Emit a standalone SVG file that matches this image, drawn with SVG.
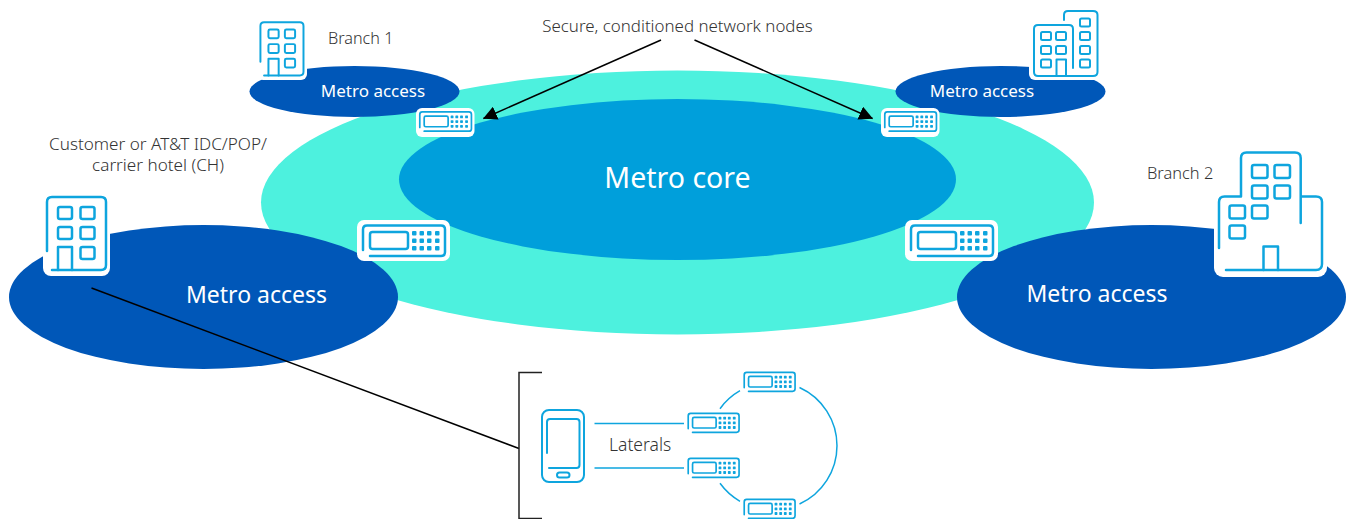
<svg xmlns="http://www.w3.org/2000/svg" xmlns:xlink="http://www.w3.org/1999/xlink" width="1348" height="519" viewBox="0 0 1348 519">
<style>
text{font-family:"Noto Sans","Open Sans","Liberation Sans",sans-serif}
.lbl{fill:#333;font-size:16.900px;font-weight:300}
.w{fill:#fff}
.ic{fill:none;stroke:#0ea5de;stroke-width:2.500;stroke-linecap:round;stroke-linejoin:round}
.sm{stroke-width:2.700}
.ln{stroke:#000;stroke-width:1.500;fill:none}
.mask{fill:#fff}
</style>
<defs>
<marker id="ah" viewBox="0 0 12 12" refX="11.500" refY="6" markerWidth="14" markerHeight="14" markerUnits="userSpaceOnUse" orient="auto"><path d="M0 0L12 6L0 12Z" fill="#000"/></marker>
<g id="dev">
<path d="M6 30V9.500Q6 5.500 10 5.500H84Q88 5.500 88 9.500V32Q88 36 84 36H13"/>
<rect x="13" y="12" width="38" height="17" rx="2.500"/>
<g fill="#0ea5de" stroke="none">
<rect x="55" y="11" width="4.500" height="4.500" rx="1"/><rect x="62.500" y="11" width="4.500" height="4.500" rx="1"/><rect x="70" y="11" width="4.500" height="4.500" rx="1"/><rect x="78" y="11" width="4.500" height="4.500" rx="1"/>
<rect x="55" y="18.500" width="4.500" height="4.500" rx="1"/><rect x="62.500" y="18.500" width="4.500" height="4.500" rx="1"/><rect x="70" y="18.500" width="4.500" height="4.500" rx="1"/><rect x="78" y="18.500" width="4.500" height="4.500" rx="1"/>
<rect x="55" y="26" width="4.500" height="4.500" rx="1"/><rect x="62.500" y="26" width="4.500" height="4.500" rx="1"/><rect x="70" y="26" width="4.500" height="4.500" rx="1"/><rect x="78" y="26" width="4.500" height="4.500" rx="1"/>
</g>
</g>
<g id="bld">
<path d="M4 55V6Q4 1 9 1H58Q63 1 63 6V69Q63 74 58 74H9"/>
<path d="M15 74V51H29V74"/>
<rect x="15" y="11" width="14" height="12" rx="2"/><rect x="37.500" y="11" width="14" height="12" rx="2"/>
<rect x="15" y="31" width="14" height="12" rx="2"/><rect x="37.500" y="31" width="14" height="12" rx="2"/>
<rect x="37.500" y="51" width="14" height="12" rx="2"/>
</g>
</defs>

<ellipse id="metro-ring" cx="677.500" cy="202.500" rx="416.500" ry="132" fill="#4df1de"/>
<g id="metro-core"><ellipse cx="677.500" cy="179.500" rx="278.500" ry="80.500" fill="#009fdb"/>
<text x="677.500" y="188" text-anchor="middle" class="w" font-size="28.500">Metro core</text></g>

<g id="access-tl"><ellipse cx="354.500" cy="91.500" rx="105" ry="25.500" fill="#0057b8"/>
<text x="373" y="97" text-anchor="middle" class="w" font-size="17">Metro access</text></g>
<g id="access-tr"><ellipse cx="1000.500" cy="91.500" rx="105" ry="25.500" fill="#0057b8"/>
<text x="982" y="97" text-anchor="middle" class="w" font-size="17">Metro access</text></g>
<g id="access-l"><ellipse cx="203.500" cy="297" rx="194.500" ry="72" fill="#0057b8"/>
<text x="256.500" y="303" text-anchor="middle" class="w" font-size="23">Metro access</text></g>
<g id="access-r"><ellipse cx="1151.500" cy="297" rx="194.500" ry="72" fill="#0057b8"/>
<text x="1097" y="302" text-anchor="middle" class="w" font-size="23">Metro access</text></g>

<g id="node-dev-tl"><rect class="mask" x="416" y="108" width="58.500" height="29" rx="6"/><use xlink:href="#dev" href="#dev" class="ic sm" transform="translate(416 108.500) scale(.63)"/></g>
<g id="node-dev-tr"><rect class="mask" x="881" y="108" width="58.500" height="29" rx="6"/><use xlink:href="#dev" href="#dev" class="ic sm" transform="translate(881 108.500) scale(.63)"/></g>
<g id="node-dev-l"><rect class="mask" x="357" y="220" width="93" height="41" rx="7"/><use xlink:href="#dev" href="#dev" class="ic" transform="translate(357 220)"/></g>
<g id="node-dev-r"><rect class="mask" x="905" y="220" width="93" height="41" rx="7"/><use xlink:href="#dev" href="#dev" class="ic" transform="translate(905 220)"/></g>

<g id="building-ch"><rect class="mask" x="43" y="190" width="67" height="86" rx="8"/><use xlink:href="#bld" href="#bld" class="ic" transform="translate(43 196)"/></g>
<g id="building-branch1"><rect class="mask" x="257" y="18" width="50" height="62" rx="6"/><use xlink:href="#bld" href="#bld" class="ic sm" transform="translate(257.500 21.500) scale(.73)"/></g>

<g id="building-top-right"><rect class="mask" x="1029" y="5" width="73" height="75" rx="6"/>
<g class="ic" style="stroke-width:2">
<path d="M1073 68V29Q1073 25 1069 25H1038Q1034 25 1034 29V72Q1034 76 1038 76H1093Q1097.500 76 1097.500 72V15Q1097.500 11 1093 11H1068Q1064 11 1064 15V20"/>
<path d="M1056.500 76V59.500H1066V76"/>
<rect x="1041" y="32" width="10" height="8" rx="1.500"/><rect x="1056" y="32" width="10" height="8" rx="1.500"/>
<rect x="1041" y="46" width="10" height="8" rx="1.500"/><rect x="1056" y="46" width="10" height="8" rx="1.500"/>
<rect x="1041" y="59.500" width="10" height="8" rx="1.500"/>
<rect x="1080" y="18.500" width="10" height="8" rx="1.500"/><rect x="1080" y="32" width="10" height="8" rx="1.500"/><rect x="1080" y="46" width="10" height="8" rx="1.500"/><rect x="1080" y="59.500" width="10" height="8" rx="1.500"/>
</g></g>

<g id="building-branch2"><rect class="mask" x="1214" y="190" width="113" height="87" rx="9"/>
<g class="ic">
<path d="M1219 248V202Q1219 196.500 1224.500 196.500H1241V158Q1241 152.500 1246.500 152.500H1295Q1300.700 152.500 1300.700 158V223M1300.700 196.500H1316Q1322 196.500 1322 202V264Q1322 270 1316 270H1226"/>
<path d="M1263.500 270V246.500H1278V270"/>
<rect x="1252" y="165" width="15.500" height="13" rx="2"/><rect x="1274.500" y="165" width="15.500" height="13" rx="2"/>
<rect x="1252" y="185.500" width="15.500" height="13" rx="2"/><rect x="1274.500" y="185.500" width="15.500" height="13" rx="2"/>
<rect x="1229.500" y="205.500" width="15.500" height="13" rx="2"/><rect x="1252" y="205.500" width="15.500" height="13" rx="2"/>
<rect x="1229.500" y="225.500" width="15.500" height="13" rx="2"/>
</g></g>

<g id="laterals-phone" class="ic" style="stroke-width:2">
<rect x="542" y="410" width="42" height="72" rx="7"/>
<path d="M547 453V422Q547 419 550 419H576.500Q579.500 419 579.500 422V465Q579.500 468 576.500 468H549"/>
<rect x="557" y="472.500" width="12.500" height="5" rx="2.500"/>
</g>
<g id="lat-dev-1"><use xlink:href="#dev" href="#dev" class="ic sm" transform="translate(740.500 369) scale(.62)"/></g>
<g id="lat-dev-2"><use xlink:href="#dev" href="#dev" class="ic sm" transform="translate(684.500 410) scale(.62)"/></g>
<g id="lat-dev-3"><use xlink:href="#dev" href="#dev" class="ic sm" transform="translate(684.500 455) scale(.62)"/></g>
<g id="lat-dev-4"><use xlink:href="#dev" href="#dev" class="ic sm" transform="translate(740.500 496) scale(.62)"/></g>

<g id="connectors">
<g fill="none" stroke="#0ea5de" stroke-width="1.500">
<path d="M594.500 423.500H684M594.500 468H684"/>
<path d="M799.500 387.500A64 64 0 0 1 799.500 504"/>
<path d="M740 390.700A64 64 0 0 0 720 408.700"/>
<path d="M720 483.300A64 64 0 0 0 740 501.300"/>
</g>
<path class="ln" d="M91.500 288L519 448.500"/>
<path d="M542 372.500H519V518.500H542" fill="none" stroke="#222" stroke-width="1.500"/>
<path class="ln" d="M661 40L483.500 118.500" marker-end="url(#ah)"/>
<path class="ln" d="M694.500 40L872.500 118.500" marker-end="url(#ah)"/>
</g>

<g id="labels">
<text class="lbl" x="677.500" y="32" text-anchor="middle">Secure, conditioned network nodes</text>
<text class="lbl" x="328" y="44" style="font-size:16.200px">Branch 1</text>
<text class="lbl" x="158" y="150" text-anchor="middle" style="font-size:17.100px">Customer or AT&amp;T IDC/POP/</text>
<text class="lbl" x="158" y="171" text-anchor="middle" style="font-size:17.100px">carrier hotel (CH)</text>
<text class="lbl" x="1147" y="179" style="font-size:16.400px">Branch 2</text>
<text class="lbl" x="609" y="451" style="font-size:17.500px">Laterals</text>
</g>
</svg>
